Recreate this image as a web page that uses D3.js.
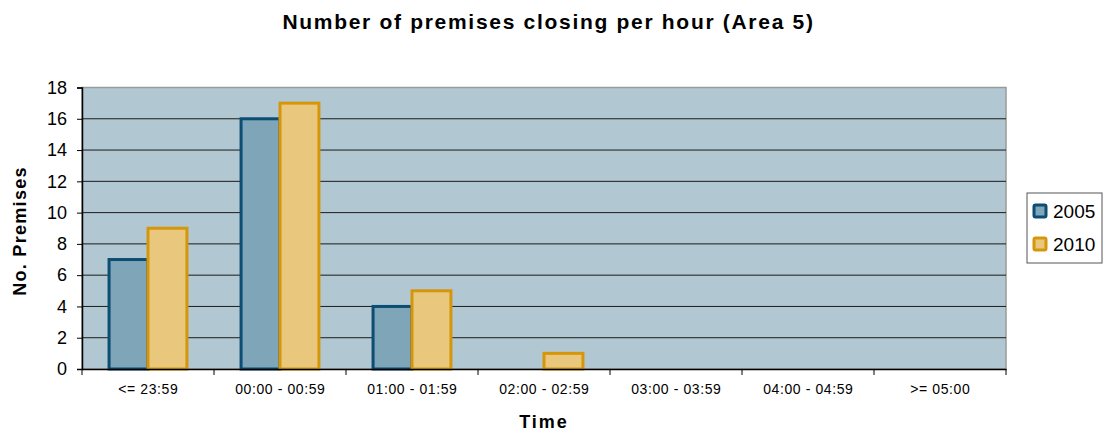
<!DOCTYPE html>
<html><head><meta charset="utf-8">
<script src="https://cdn.jsdelivr.net/npm/d3@7"></script>
<style>body{margin:0;background:#fff;}svg{display:block;font-family:"Liberation Sans",Arial,sans-serif;}</style>
</head><body><svg id="c" width="1103" height="432"></svg>
<script>
const categories = ["<= 23:59","00:00 - 00:59","01:00 - 01:59","02:00 - 02:59","03:00 - 03:59","04:00 - 04:59",">= 05:00"];
const seriesNames = ["2005","2010"];
const values2005 = [7,16,4,0,0,0,0];
const values2010 = [9,17,5,1,0,0,0];
const yTicks = [0,2,4,6,8,10,12,14,16,18];
const title = "Number of premises closing per hour (Area 5)";
const xTitle = "Time";
const yTitle = "No. Premises";

const fills = {"2005":"#7fa5b8","2010":"#e9c87e"};
const strokes = {"2005":"#0b4d73","2010":"#d6960b"};
const series = {"2005":values2005,"2010":values2010};

const svg = d3.select("#c");
const L=82,R=1006,T=87.5,B=369;
const x = d3.scaleBand().domain(categories).range([L,R]).padding(0);
const bw = x.bandwidth();
const x1 = d3.scaleBand().domain(seriesNames).range([bw*0.205,bw*0.795]).padding(0);
const y = d3.scaleLinear().domain([0,18]).range([B,T]);

svg.append("rect").attr("x",L).attr("y",T).attr("width",R-L).attr("height",B-T).attr("fill","#b1c8d3").attr("stroke","#9a9a9a").attr("stroke-width",1.5);

svg.append("g").selectAll("line").data(yTicks.filter(d=>d>0&&d<18)).join("line")
  .attr("x1",L).attr("x2",R).attr("y1",d=>y(d)).attr("y2",d=>y(d)).attr("stroke","#1a1a1a").attr("stroke-width",1);

seriesNames.forEach(s=>{
  svg.append("g").selectAll("rect").data(categories.map((c,i)=>({c,v:series[s][i]})).filter(d=>d.v>0)).join("rect")
    .attr("x",d=>x(d.c)+x1(s)).attr("width",x1.bandwidth())
    .attr("y",d=>y(d.v)).attr("height",d=>B-y(d.v))
    .attr("fill",fills[s]).attr("stroke",strokes[s]).attr("stroke-width",3);
});

const ya = svg.append("g").attr("transform",`translate(${L},0)`).call(d3.axisLeft(y).tickValues(yTicks).tickSize(5).tickPadding(10));
ya.select(".domain").attr("stroke","#000").attr("stroke-width",1.5);
ya.selectAll(".tick line").attr("stroke","#000");
ya.selectAll("text").attr("font-size",18).attr("fill","#000").attr("font-family","Liberation Sans, Arial, sans-serif");

const xa = svg.append("g").attr("transform",`translate(0,${B})`).call(d3.axisBottom(x).tickSize(0).tickPadding(15));
xa.select(".domain").attr("stroke","#000").attr("stroke-width",1.5);
xa.selectAll("text").attr("font-size",14).attr("letter-spacing","0.6px").attr("dx","0.3px").attr("fill","#000").attr("font-family","Liberation Sans, Arial, sans-serif");
svg.append("g").selectAll("line").data(categories.concat(["__end"])).join("line")
  .attr("x1",(d,i)=>L+i*bw).attr("x2",(d,i)=>L+i*bw).attr("y1",B).attr("y2",B+6).attr("stroke","#000");

svg.append("text").attr("x",548.5).attr("y",28.5).attr("text-anchor","middle").attr("font-size",21).attr("letter-spacing","1.7px").attr("font-weight","bold").text(title);
svg.append("text").attr("x",544).attr("y",428).attr("text-anchor","middle").attr("font-size",18).attr("letter-spacing","2px").attr("font-weight","bold").text(xTitle);
svg.append("text").attr("transform","translate(26,231) rotate(-90)").attr("text-anchor","middle").attr("font-size",18).attr("letter-spacing","1.3px").attr("font-weight","bold").text(yTitle);

const lg = svg.append("g");
lg.append("rect").attr("x",1027).attr("y",193).attr("width",75).attr("height",70).attr("fill","#fff").attr("stroke","#555").attr("stroke-width",1);
seriesNames.forEach((s,i)=>{
  const yy = 211+i*33;
  lg.append("rect").attr("x",1034).attr("y",yy-6).attr("width",12).attr("height",12).attr("rx",1.5).attr("fill",fills[s]).attr("stroke",strokes[s]).attr("stroke-width",3);
  lg.append("text").attr("x",1053).attr("y",yy+7).attr("font-size",19).text(s);
});
</script></body></html>
